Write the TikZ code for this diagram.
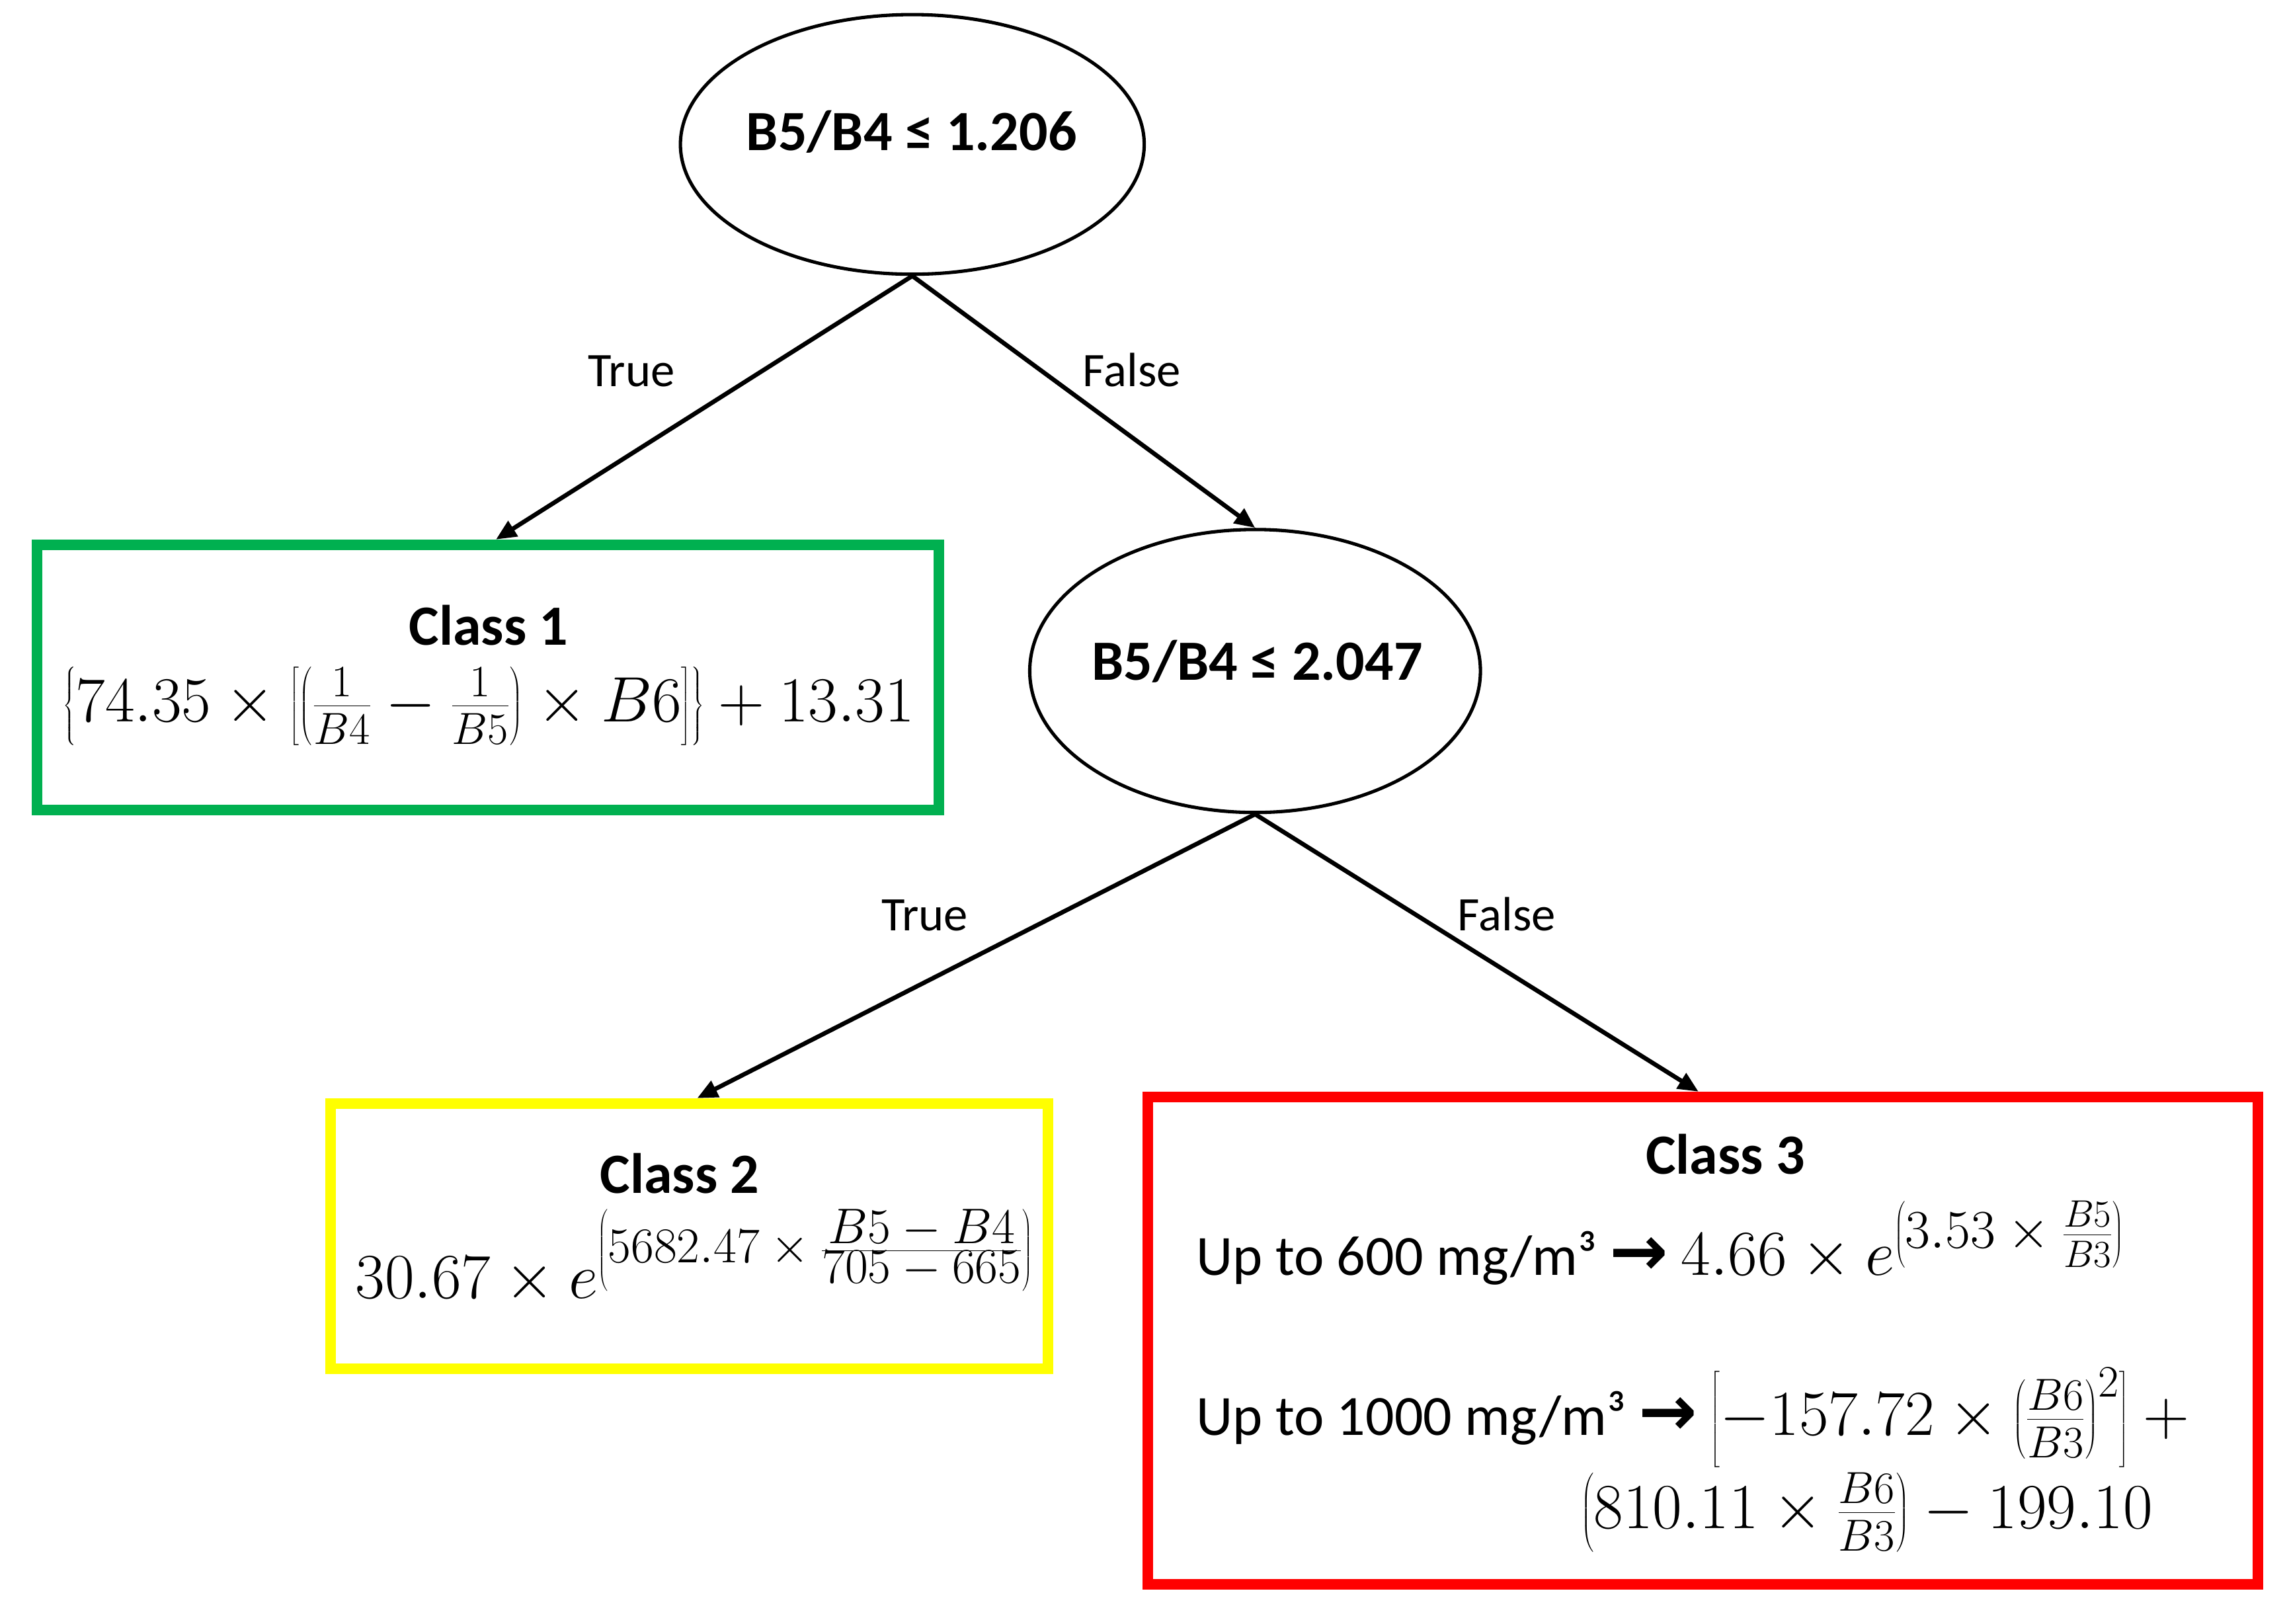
\RequirePackage{fix-cm}
\documentclass[tikz,border=0pt]{standalone}
\usepackage[no-math]{fontspec}
\setmainfont{Carlito}
\newfontfamily\arrowfont{DejaVu Sans}
\usepackage{graphicx}
\usetikzlibrary{shapes.geometric,arrows.meta}
\definecolor{cgreen}{HTML}{00B050}
\definecolor{cyellow}{HTML}{FFFF00}
\definecolor{cred}{HTML}{FF0000}
\newcommand{\mathsz}{\fontsize{44}{52}\selectfont}
\newcommand{\bigarrow}{{\arrowfont\bfseries\fontsize{48}{48}\selectfont →}}
\newcommand{\dstrut}{\vrule height 0.8em depth 0.38em width 0pt}
\tikzset{
  decision/.style={ellipse,draw=black,line width=2.3pt,inner sep=0pt},
  classbox/.style={rectangle,line width=7.3pt,inner sep=0pt},
  arr/.style={-{Triangle[length=14pt,width=12pt]},line width=3pt},
  edgelbl/.style={font=\fontsize{33}{39}\selectfont,anchor=base,inner sep=0pt},
  dtext/.style={font=\fontsize{39}{47}\selectfont\bfseries,anchor=base,inner sep=0pt},
  ftext/.style={font=\fontsize{39}{47}\selectfont,anchor=base,inner sep=0pt},
}
\begin{document}
\begin{tikzpicture}[x=1pt,y=-1pt]
\useasboundingbox (0,0) rectangle (1568,1113);
% decisions
\node[decision,minimum width=318pt,minimum height=178pt] (n1) at (625.5,99) {};
\node[dtext] (n1t) at (625,103) {B5/B4 ≤ 1.206};
\node[decision,minimum width=309pt,minimum height=194pt] (n2) at (860.5,460) {};
\node[dtext] (n2t) at (862,466) {B5/B4 ≤ 2.047};
% class boxes
\node[classbox,draw=cgreen,minimum width=618pt,minimum height=182pt] (c1) at (334.5,464.5) {};
\node[classbox,draw=cyellow,minimum width=492pt,minimum height=182pt] (c2) at (472.5,847.5) {};
\node[classbox,draw=cred,minimum width=761pt,minimum height=334pt] (c3) at (1167.5,919) {};
% connectors
\draw[arr] (n1.south) -- ([xshift=5.5pt]c1.north);
\draw[arr] (n1.south) -- (n2.north);
\draw[arr] (n2.south) -- ([xshift=5.5pt]c2.north);
\draw[arr] (n2.south) -- ([xshift=-3pt]c3.north);
% edge labels
\node[edgelbl] (l1) at (433,265) {True};
\node[edgelbl] (l2) at (776,265) {False};
\node[edgelbl] (l3) at (634,638) {True};
\node[edgelbl] (l4) at (1033,638) {False};
% class 1
\node[dtext] (c1t) at (335,442) {Class 1};
\node[ftext,font=\mathsz] (c1f) at (335,495) {$\left\{\dstrut 74.35\times\left[\left(\dstrut\frac{1}{B4}-\frac{1}{B5}\right)\times B6\right]\right\}+13.31$};
% class 2
\node[dtext] (c2t) at (466,818) {Class 2};
\node[ftext,font=\mathsz] (c2f) at (476,890) {$30.67\times e^{\scalebox{0.78}{$\left(5682.47\times\frac{\textstyle B5-B4}{\textstyle 705-665}\right)$}}$};
% class 3
\node[dtext] (c3t) at (1183,805) {Class 3};
\node[ftext,anchor=base west] (c3a) at (820,874) {Up to 600 mg/m³ \bigarrow\ {\mathsz$4.66\times e^{\scalebox{0.85}{$\left(3.53\times\frac{B5}{B3}\right)$}}$}};
\node[ftext,anchor=base west] (c3b) at (820,984) {Up to 1000 mg/m³ \bigarrow\ {\mathsz$\left[-157.72\times\left(\frac{B6}{B3}\right)^{2}\right]\mathbin{+}{}$}};
\node[ftext,anchor=base east,font=\mathsz] (c3c) at (1476,1048) {$\left(810.11\times\frac{B6}{B3}\right)-199.10$};
\end{tikzpicture}
\end{document}
